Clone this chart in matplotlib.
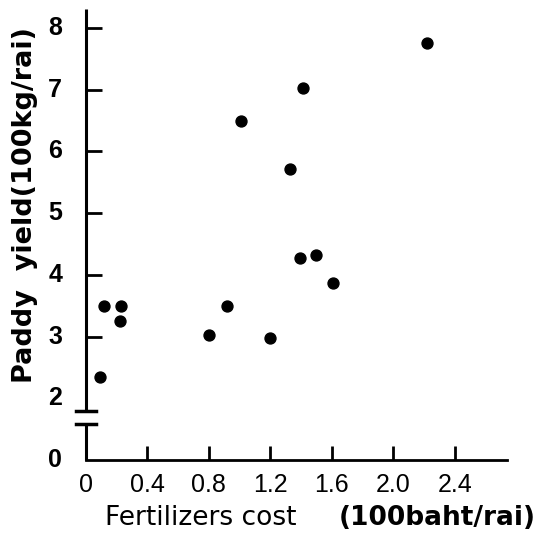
import matplotlib.pyplot as plt
import numpy as np

# fertilizers cost (100 baht/rai) and paddy yield (100 kg/rai)
cost = [0.09, 0.12, 0.23, 0.22, 0.80, 0.92, 1.20, 1.61, 2.22, 1.41, 1.01, 1.33, 1.39, 1.50]
yld = [2.35, 3.49, 3.50, 3.25, 3.02, 3.49, 2.97, 3.86, 7.75, 7.02, 6.49, 5.72, 4.28, 4.32]

xticks = [0, 0.4, 0.8, 1.2, 1.6, 2.0, 2.4]
xlabels = ['0', '0.4', '0.8', '1.2', '1.6', '2.0', '2.4']
yticks = [0, 2, 3, 4, 5, 6, 7, 8]
ylabels = ['0', '2', '3', '4', '5', '6', '7', '8']

# broken axis: 0 is drawn one unit below 2
def brk(v):
    v = np.asarray(v, dtype=float)
    return np.where(v >= 2, v, v / 2 + 1)

fig = plt.figure(figsize=(5.46, 5.37), dpi=100)
ax = fig.add_axes([86 / 546, 77 / 537, 421 / 546, 450 / 537])
ax.set_xlim(0, 2.74)
ax.set_ylim(1, 8.29)

ax.scatter(cost, brk(yld), s=62, color='black', zorder=3, clip_on=False)

for s in ['top', 'right', 'left']:
    ax.spines[s].set_visible(False)
ax.spines['bottom'].set_linewidth(2)

# left axis in two pieces with break bars
ax.plot([0, 0], [1, 1.58], color='black', lw=2.2, clip_on=False, solid_capstyle='butt')
ax.plot([0, 0], [1.79, 8.3], color='black', lw=2.2, clip_on=False, solid_capstyle='butt')
ax.plot([-0.065, 0.065], [1.58, 1.58], color='black', lw=2.5, clip_on=False)
ax.plot([-0.065, 0.065], [1.79, 1.79], color='black', lw=2.5, clip_on=False)

ax.set_xticks(xticks)
ax.set_xticklabels(xlabels, family='Liberation Sans', fontsize=18)
ax.tick_params(axis='x', direction='in', length=10, width=2, pad=9)

# y ticks point inward (to the right)
ytick_pos = brk(yticks)
ax.set_yticks([])
ax.hlines(ytick_pos[2:], 0, 0.105, color='black', lw=2)
for v, lab in zip(ytick_pos, ylabels):
    ax.text(-0.2, v, lab, fontsize=18, fontweight='bold', family='Liberation Sans',
            ha='center', va='center')

fig.text(201 / 546, 19 / 537, 'Fertilizers cost', fontsize=19, ha='center', va='center')
fig.text(437 / 546, 19 / 537, '(100baht/rai)', fontsize=19, fontweight='bold',
         ha='center', va='center')
fig.text(25 / 546, 1 - 205 / 537, 'Paddy  yield(100kg/rai)', fontsize=19.5,
         fontweight='bold', rotation=90, ha='center', va='center')

fig.savefig('out.png', dpi=100)
